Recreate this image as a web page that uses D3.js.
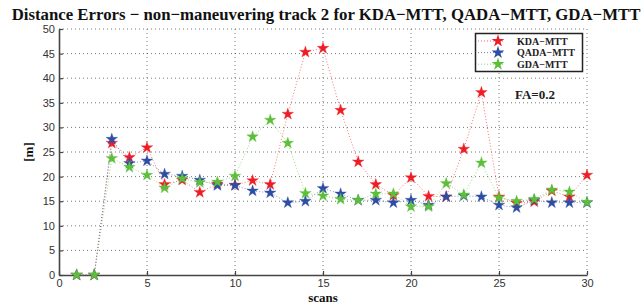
<!DOCTYPE html>
<html>
<head>
<meta charset="utf-8">
<script src="https://cdn.jsdelivr.net/npm/d3@7"></script>
<style>
  body { margin: 0; background: #fff; }
  svg { display: block; }
</style>
</head>
<body>
<svg id="chart" width="644" height="305"></svg>
<script>
// values
var scans = d3.range(1, 31);
var kda  = [0, 0, 26.8, 23.9, 25.9, 18.4, 19.3, 16.8, 18.5, 18.3, 19.2, 18.4, 32.7, 45.3, 46.1, 33.5, 23.0, 18.4, 16.2, 19.8, 16.0, 15.9, 25.6, 37.1, 15.9, 14.6, 14.9, 17.1, 15.9, 20.3];
var qada = [0, 0, 27.6, 22.7, 23.2, 20.5, 20.1, 19.3, 18.2, 18.2, 17.1, 16.7, 14.7, 15.0, 17.6, 16.5, 15.2, 15.2, 14.7, 15.2, 14.2, 15.9, 16.1, 15.9, 14.2, 13.7, 15.2, 14.7, 14.7, 14.7];
var gda  = [0, 0, 23.7, 21.9, 20.3, 17.7, 19.6, 18.8, 18.9, 20.1, 28.1, 31.5, 26.8, 16.6, 16.1, 15.4, 15.2, 16.5, 16.5, 13.9, 13.9, 18.6, 16.3, 22.8, 15.7, 15.0, 15.4, 17.3, 16.9, 14.8];
var seriesNames = ["KDA\u2212MTT", "QADA\u2212MTT", "GDA\u2212MTT"];
var seriesColors = ["#ee1c24", "#2e4ea3", "#5cbf3a"];
var xTicks = [0, 5, 10, 15, 20, 25, 30];
var yTicks = [0, 5, 10, 15, 20, 25, 30, 35, 40, 45, 50];

var svg = d3.select("#chart");
// plot box edges (window.top is reserved, so other names)
var plotL = 59, plotR = 587, plotT = 29, plotB = 275;

var x = d3.scaleLinear().domain([0, 30]).range([plotL, plotR]);
var y = d3.scaleLinear().domain([0, 50]).range([plotB, plotT]);

// grid
svg.append("g").selectAll("line").data(yTicks.slice(1)).join("line")
    .attr("x1", plotL).attr("x2", plotR)
    .attr("y1", d => y(d)).attr("y2", d => y(d))
    .style("stroke", "#555").style("stroke-width", 0.8)
    .style("stroke-dasharray", "1,3");
svg.append("g").selectAll("line").data(xTicks.slice(1)).join("line")
    .attr("x1", d => x(d)).attr("x2", d => x(d))
    .attr("y1", plotT).attr("y2", plotB)
    .style("stroke", "#555").style("stroke-width", 0.8)
    .style("stroke-dasharray", "1,3");

// axes
var xAxis = svg.append("g")
    .attr("transform", "translate(0," + plotB + ")")
    .call(d3.axisBottom(x).tickValues(xTicks).tickSizeInner(-4).tickSizeOuter(0).tickPadding(4));
var yAxis = svg.append("g")
    .attr("transform", "translate(" + plotL + ",0)")
    .call(d3.axisLeft(y).tickValues(yTicks).tickSizeInner(-4).tickSizeOuter(0).tickPadding(4));

[xAxis, yAxis].forEach(function(a) {
    a.select(".domain").style("stroke", "#444").style("stroke-width", 1.6);
    a.selectAll(".tick line").style("stroke", "#444").style("stroke-width", 1.2);
    a.selectAll("text")
        .style("font-family", "Liberation Sans, Arial, sans-serif")
        .style("font-size", "11px")
        .style("fill", "#333");
});

// series
var allSeries = [kda, qada, gda];
var star = d3.symbol().type(d3.symbolStar).size(42);
var line = d3.line().x((d, i) => x(scans[i])).y(d => y(d));

allSeries.forEach(function(vals, k) {
    svg.append("path")
        .datum(vals)
        .attr("d", line)
        .style("fill", "none")
        .style("stroke", seriesColors[k])
        .style("stroke-width", 1)
        .style("stroke-opacity", 0.6)
        .style("stroke-dasharray", "1,2");
});
allSeries.forEach(function(vals, k) {
    svg.append("g").selectAll("path").data(vals).join("path")
        .attr("d", star)
        .attr("transform", (d, i) => "translate(" + x(scans[i]) + "," + y(d) + ")")
        .style("fill", seriesColors[k])
        .style("stroke", seriesColors[k])
        .style("stroke-opacity", 0.4)
        .style("stroke-width", 0.8);
});

// legend
var lg = svg.append("g");
lg.append("rect")
    .attr("x", 475.5).attr("y", 33.5).attr("width", 107).attr("height", 38)
    .style("fill", "#fff").style("stroke", "#222").style("stroke-width", 1.5);
seriesNames.forEach(function(name, k) {
    var ly = 41 + k * 11.6;
    lg.append("line")
        .attr("x1", 478).attr("x2", 505).attr("y1", ly).attr("y2", ly)
        .style("stroke", seriesColors[k]).style("stroke-opacity", 0.7)
        .style("stroke-width", 1).style("stroke-dasharray", "1,2");
    lg.append("path")
        .attr("d", star)
        .attr("transform", "translate(498," + ly + ") scale(1.1)")
        .style("fill", seriesColors[k]);
    lg.append("text")
        .attr("x", 517).attr("y", ly + 3.5)
        .style("font-family", "Liberation Serif, Times New Roman, serif")
        .style("font-weight", "bold")
        .style("font-size", "10px")
        .style("fill", "#222")
        .text(name);
});

// annotation
svg.append("text")
    .attr("x", 515).attr("y", 99)
    .style("font-family", "Liberation Serif, Times New Roman, serif")
    .style("font-weight", "bold")
    .style("font-size", "13px")
    .style("fill", "#222")
    .text("FA=0.2");

// title and labels
svg.append("text")
    .attr("x", 326).attr("y", 20)
    .attr("text-anchor", "middle")
    .style("font-family", "Liberation Serif, Times New Roman, serif")
    .style("font-weight", "bold")
    .style("font-size", "16.8px")
    .style("fill", "#111")
    .text("Distance Errors \u2212 non\u2212maneuvering track 2 for KDA\u2212MTT, QADA\u2212MTT, GDA\u2212MTT");

svg.append("text")
    .attr("x", 323).attr("y", 302)
    .attr("text-anchor", "middle")
    .style("font-family", "Liberation Serif, Times New Roman, serif")
    .style("font-weight", "bold")
    .style("font-size", "13px")
    .style("fill", "#111")
    .text("scans");

svg.append("text")
    .attr("transform", "translate(33,152) rotate(-90)")
    .attr("text-anchor", "middle")
    .style("font-family", "Liberation Serif, Times New Roman, serif")
    .style("font-weight", "bold")
    .style("font-size", "13px")
    .style("fill", "#111")
    .text("[m]");
</script>
</body>
</html>
